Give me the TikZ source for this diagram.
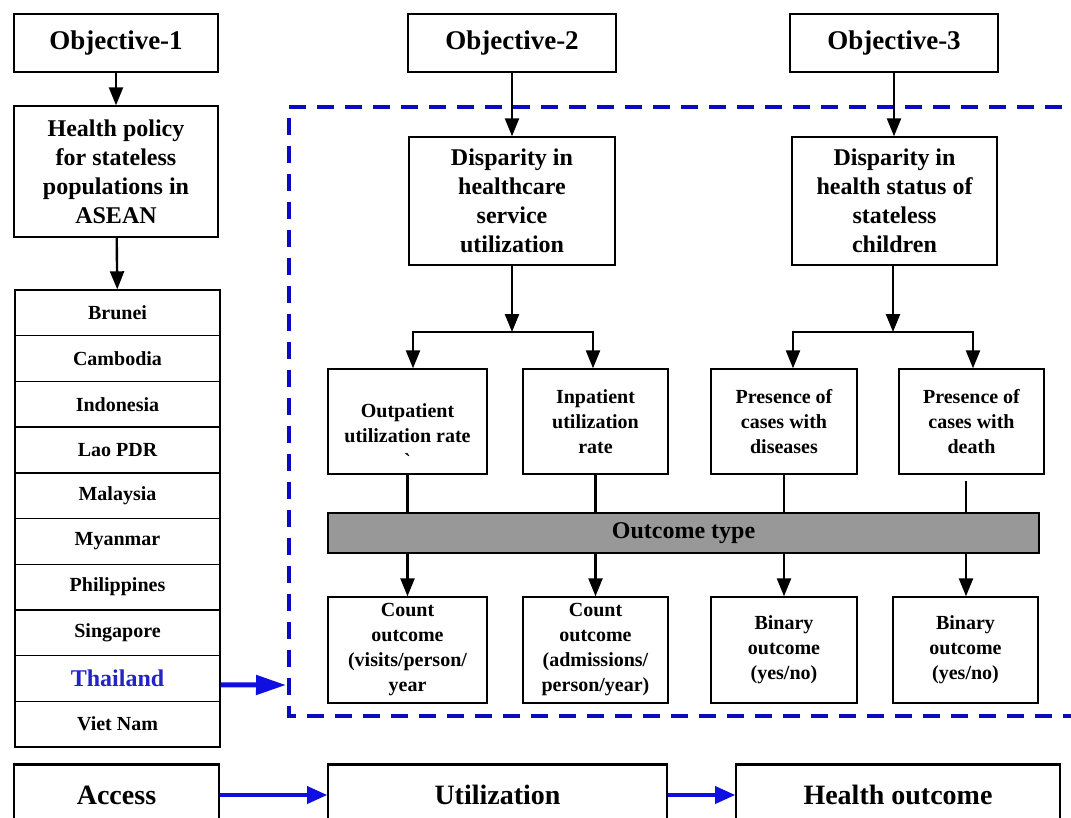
\documentclass[tikz,border=0pt]{standalone}
\usepackage{fontspec}
\setmainfont{Liberation Serif}
\usetikzlibrary{arrows.meta}

\definecolor{frameblue}{RGB}{10,10,190}
\definecolor{linkblue}{RGB}{15,15,225}
\definecolor{thaiblue}{RGB}{35,35,200}
\definecolor{bargray}{RGB}{152,152,152}

\tikzset{
  box/.style={draw, line width=1.4pt, align=center, inner sep=1pt},
  objbox/.style={box, line width=2.8pt, minimum height=58pt,
    font=\bfseries\fontsize{27}{32}\selectfont},
  bigtxt/.style={box, font=\bfseries\fontsize{24}{29}\selectfont},
  midtxt/.style={box, font=\bfseries\fontsize{20}{25}\selectfont},
  row/.style={box, minimum width=205pt, minimum height=45.7pt,
    font=\bfseries\fontsize{20}{24}\selectfont},
  outbar/.style={box, line width=2.6pt, fill=bargray, minimum width=711pt,
    minimum height=40pt, font=\bfseries\fontsize{24}{29}\selectfont},
  botbox/.style={box, line width=1.6pt, minimum height=60pt,
    font=\bfseries\fontsize{28}{32}\selectfont},
  link/.style={line width=2.4pt},
  arr/.style={line width=2.4pt, -{Triangle[length=18pt,width=14pt]}},
  thaiarr/.style={line width=5pt, draw=linkblue, -{Triangle[length=30pt,width=19pt]}},
  blink/.style={line width=3.5pt, draw=linkblue, -{Triangle[length=20pt,width=17pt]}},
  framed/.style={line width=4pt, draw=frameblue, dash pattern=on 17pt off 11pt},
}

\begin{document}
\begin{tikzpicture}[x=1pt,y=-1pt]
\clip (0,0) rectangle (1071,817);
\fill[white] (0,0) rectangle (1071,817);

% dashed frame around objectives 2 and 3
\coordinate (fTR) at (1090,107);
\coordinate (fTL) at (289,107);
\coordinate (fBL) at (289,716);
\coordinate (fBR) at (1090,716);
\draw[framed] (fTR) -- (fTL) -- (fBL) -- (fBR);

% objective 1: policy and member states
\node[objbox, minimum width=204pt] (obj1) at (116,43) {Objective-1};
\node[bigtxt, minimum width=204pt, minimum height=131pt] (pol) at (116,171.5)
  {Health policy\\for stateless\\populations in\\ASEAN};

\node[row] (c1)  at (117.5,312.85) {Brunei};
\node[row] (c2)  at (117.5,358.55) {Cambodia};
\node[row] (c3)  at (117.5,404.25) {Indonesia};
\node[row] (c4)  at (117.5,449.95) {Lao PDR};
\node[row] (c5)  at (117.5,495.65) {Malaysia};
\node[row] (c6)  at (117.5,541.35) {Myanmar};
\node[row] (c7)  at (117.5,587.05) {Philippines};
\node[row] (c8)  at (117.5,632.75) {Singapore};
\node[row, text=thaiblue, font=\bfseries\fontsize{24}{28}\selectfont] (c9) at (117.5,678.45) {Thailand};
\node[row] (c10) at (117.5,724.15) {Viet Nam};

\draw[arr] (obj1) -- (pol);
\draw[arr] (pol) -- (c1);

\coordinate (frameW) at (286,685);
\draw[thaiarr] ([yshift=-6.5pt]c9.east) -- (frameW);

% objective 2: healthcare service utilization
\node[objbox, minimum width=208pt] (obj2) at (512,43) {Objective-2};
\node[bigtxt, minimum width=206pt, minimum height=128pt] (disp2) at (512,201)
  {Disparity in\\healthcare\\service\\utilization};
\draw[arr] (obj2) -- (disp2);

\node[midtxt, minimum width=159pt, minimum height=105pt] (out) at (407.5,421.5)
  {\strut\\Outpatient\\utilization rate\\\textasciigrave};
\node[midtxt, minimum width=145pt, minimum height=105pt] (inp) at (595.5,421.5)
  {Inpatient\\utilization\\rate};

\coordinate (br2)  at (512,332);
\coordinate (br2L) at (413,332);
\coordinate (br2R) at (593,332);
\draw[arr] (disp2) -- (br2);
\draw[arr] (br2) -- (br2L) -- (br2L |- out.north);
\draw[arr] (br2) -- (br2R) -- (br2R |- inp.north);

% objective 3: health status of children
\node[objbox, minimum width=208pt] (obj3) at (894,43) {Objective-3};
\node[bigtxt, minimum width=205pt, minimum height=128pt] (disp3) at (894.5,201)
  {Disparity in\\health status of\\stateless\\children};
\draw[arr] (obj3) -- (obj3 |- disp3.north);

\node[midtxt, minimum width=146pt, minimum height=105pt] (pdis) at (784,421.5)
  {Presence of\\cases with\\diseases};
\node[midtxt, minimum width=145pt, minimum height=105pt] (pdeath) at (971.5,421.5)
  {Presence of\\cases with\\death};

\coordinate (br3)  at (893,332);
\coordinate (br3L) at (793,332);
\coordinate (br3R) at (973,332);
\draw[arr] (disp3.south -| br3) -- (br3);
\draw[arr] (br3) -- (br3L) -- (br3L |- pdis.north);
\draw[arr] (br3) -- (br3R) -- (br3R |- pdeath.north);

% outcome type bar and outcome boxes
\node[outbar] (bar) at (683.5,533) {Outcome type};

\node[midtxt, minimum width=159pt, minimum height=106pt] (o1) at (407.5,650)
  {Count\\outcome\\(visits/person/\\year};
\node[midtxt, minimum width=145pt, minimum height=106pt] (o2) at (595.5,650)
  {Count\\outcome\\(admissions/\\person/year)};
\node[midtxt, minimum width=146pt, minimum height=106pt] (o3) at (784,650)
  {Binary\\outcome\\(yes/no)};
\node[midtxt, minimum width=145pt, minimum height=106pt] (o4) at (965.5,650)
  {Binary\\outcome\\(yes/no)};

\coordinate (deathTail) at (966,481);
\draw[link] (out.south) -- (out.south |- bar.north);
\draw[link] (inp.south) -- (inp.south |- bar.north);
\draw[link] (pdis.south) -- (pdis.south |- bar.north);
\draw[link] (deathTail) -- (deathTail |- bar.north);

\draw[arr] (o1 |- bar.south) -- (o1);
\draw[arr] (o2 |- bar.south) -- (o2);
\draw[arr] (o3 |- bar.south) -- (o3);
\draw[arr] (deathTail |- bar.south) -- (deathTail |- o4.north);

% conceptual chain along the bottom
\node[botbox, minimum width=205pt] (access) at (116.5,795) {Access};
\node[botbox, minimum width=339pt] (util) at (497.5,795) {Utilization};
\node[botbox, minimum width=324pt] (hout) at (898,795) {Health outcome};
\foreach \b in {access,util,hout}
  \draw[line width=3.2pt] (\b.north west) -- (\b.north east);

\draw[blink] (access) -- (util);
\draw[blink] (util) -- (hout);
\end{tikzpicture}
\end{document}
